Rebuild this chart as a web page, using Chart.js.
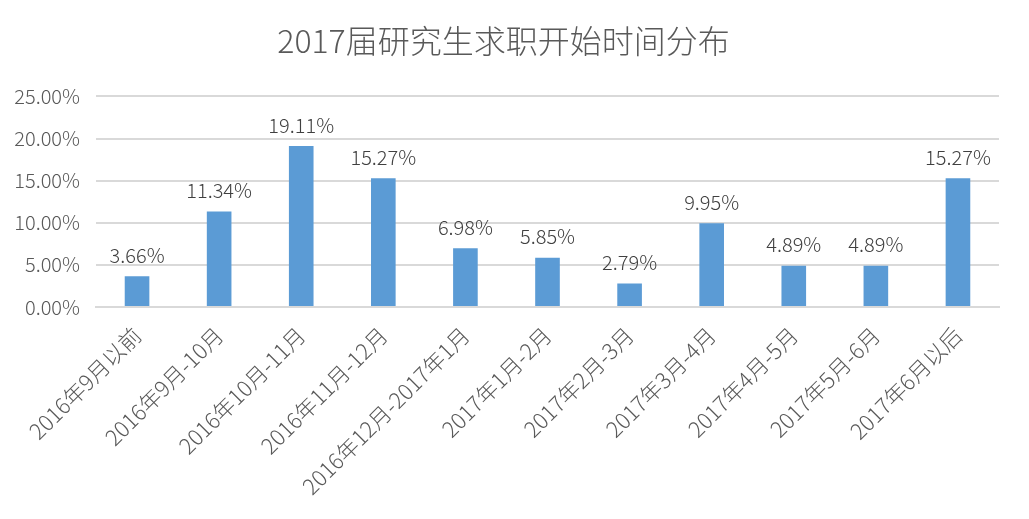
<!DOCTYPE html>
<html>
<head>
<meta charset="utf-8">
<script src="https://cdn.jsdelivr.net/npm/chart.js@4/dist/chart.umd.min.js"></script>
<style>
  html, body { margin: 0; padding: 0; background: #fff; }
  #wrap { width: 1029px; height: 519px; }
</style>
</head>
<body>
<div id="wrap"><canvas id="chart"></canvas></div>
<script>
const title = '2017届研究生求职开始时间分布';

const categories = [
  '2016年9月以前', '2016年9月-10月', '2016年10月-11月', '2016年11月-12月',
  '2016年12月-2017年1月', '2017年1月-2月', '2017年2月-3月', '2017年3月-4月',
  '2017年4月-5月', '2017年5月-6月', '2017年6月以后'
];

const shares = [3.66, 11.34, 19.11, 15.27, 6.98, 5.85, 2.79, 9.95, 4.89, 4.89, 15.27];

const yTicks = [0, 5, 10, 15, 20, 25];

const font = '"Noto Sans CJK SC", "Liberation Sans", sans-serif';
const textColor = '#595959';

// draws the value above each bar, like the excel data labels
const barLabels = {
  id: 'barLabels',
  afterDatasetsDraw(chart) {
    const ctx = chart.ctx;
    const meta = chart.getDatasetMeta(0);
    ctx.save();
    ctx.font = '300 20px ' + font;
    ctx.fillStyle = '#404040';
    ctx.textAlign = 'center';
    ctx.textBaseline = 'bottom';
    meta.data.forEach((bar, i) => {
      ctx.fillText(shares[i].toFixed(2) + '%', bar.x, bar.y - 11);
    });
    ctx.restore();
  }
};

new Chart(document.getElementById('chart'), {
  type: 'bar',
  data: {
    labels: categories,
    datasets: [{
      data: shares,
      backgroundColor: '#5b9bd5',
      barPercentage: 0.3,
      categoryPercentage: 1
    }]
  },
  options: {
    responsive: true,
    maintainAspectRatio: false,
    animation: false,
    layout: { padding: { left: 8, right: 30, top: 12, bottom: 0 } },
    plugins: {
      legend: { display: false },
      tooltip: { enabled: false },
      title: {
        display: true,
        text: title,
        color: textColor,
        font: { family: font, size: 32, weight: '300' },
        padding: { top: 10, bottom: 36 }
      }
    },
    scales: {
      x: {
        grid: { display: false },
        border: { color: '#d9d9d9', width: 2 },
        ticks: {
          color: textColor,
          font: { family: font, size: 22, weight: '300' },
          minRotation: 45,
          maxRotation: 45,
          autoSkip: false,
          padding: 7
        },
        afterFit(scale) { scale.height = 212; }
      },
      y: {
        min: 0,
        max: 25,
        afterBuildTicks(scale) { scale.ticks = yTicks.map(v => ({ value: v })); },
        grid: { color: '#d9d9d9', lineWidth: 2, drawTicks: false },
        border: { display: false },
        ticks: {
          color: textColor,
          font: { family: font, size: 20, weight: '300' },
          padding: 16,
          callback: v => v.toFixed(2) + '%'
        },
        afterFit(scale) { scale.width = 88; }
      }
    }
  },
  plugins: [barLabels]
});
</script>
</body>
</html>
